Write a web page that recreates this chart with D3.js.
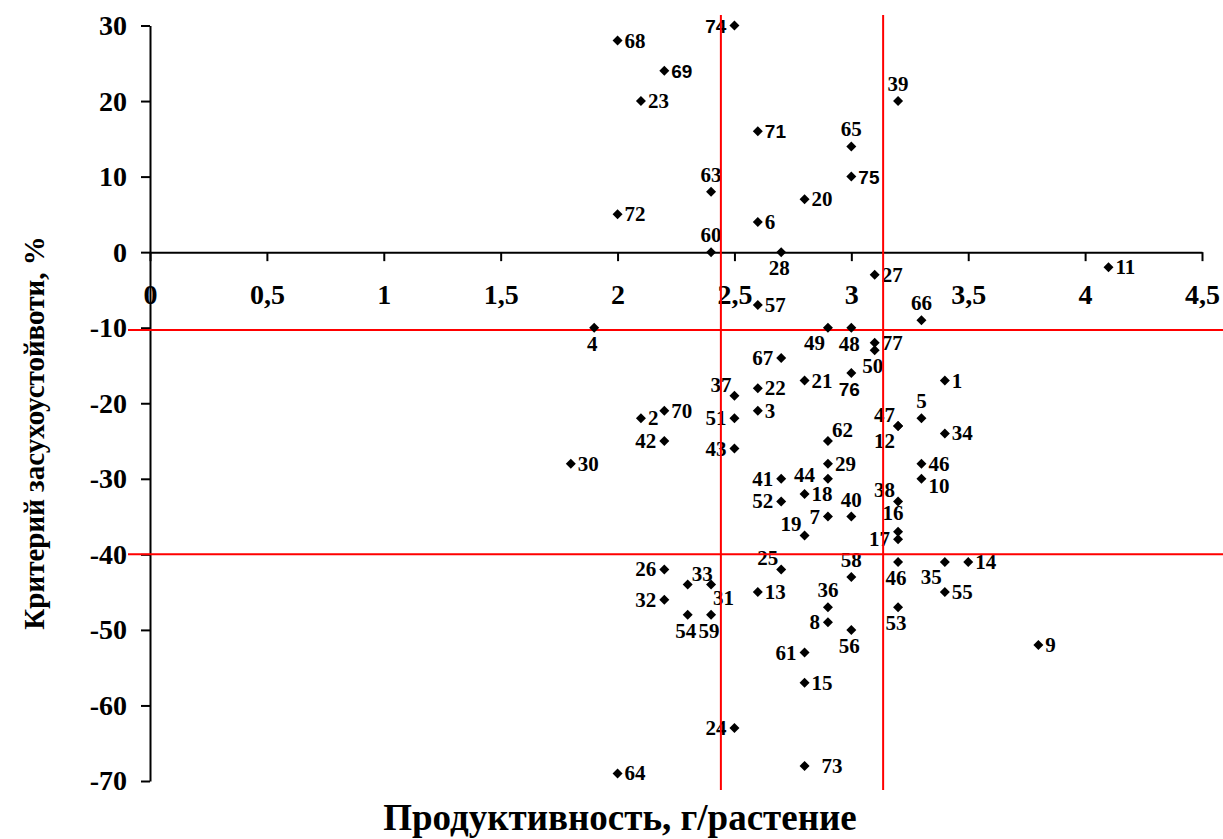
<!DOCTYPE html>
<html>
<head>
<meta charset="utf-8">
<script src="https://cdn.jsdelivr.net/npm/d3@7"></script>
<style>
  body { margin: 0; background: #fff; }
  svg { display: block; }
</style>
</head>
<body>
<div id="chart"></div>
<script>
// sample numbers, productivity (g/plant) and drought criterion (%)
var names = [1, 2, 3, 4, 5, 6, 7, 8, 9, 10,
  11, 12, 13, 14, 15, 16, 17, 18, 19, 20,
  21, 22, 23, 24, 25, 26, 27, 28, 29, 30,
  31, 32, 33, 34, 35, 36, 37, 38, 39, 40,
  41, 42, 43, 44, 46, 46, 47, 48, 49, 50,
  51, 52, 53, 54, 55, 56, 57, 58, 59, 60,
  61, 62, 63, 64, 65, 66, 67, 68, 69, 70,
  71, 72, 73, 74, 75, 76, 77];
var xVals = [3.4, 2.1, 2.6, 1.9, 3.3, 2.6, 2.9, 2.9, 3.8, 3.3,
  4.1, 3.2, 2.6, 3.5, 2.8, 3.2, 3.2, 2.8, 2.8, 2.8,
  2.8, 2.6, 2.1, 2.5, 2.7, 2.2, 3.1, 2.7, 2.9, 1.8,
  2.4, 2.2, 2.3, 3.4, 3.4, 2.9, 2.5, 3.2, 3.2, 3.0,
  2.7, 2.2, 2.5, 2.9, 3.3, 3.2, 3.2, 3.0, 2.9, 3.1,
  2.5, 2.7, 3.2, 2.3, 3.4, 3.0, 2.6, 3.0, 2.4, 2.4,
  2.8, 2.9, 2.4, 2.0, 3.0, 3.3, 2.7, 2.0, 2.2, 2.2,
  2.6, 2.0, 2.8, 2.5, 3.0, 3.0, 3.1];
var yVals = [-17, -22, -21, -10, -22, 4, -35, -49, -52, -30,
  -2, -23, -45, -41, -57, -37, -38, -32, -37.5, 7,
  -17, -18, 20, -63, -42, -42, -3, 0, -28, -28,
  -44, -46, -44, -24, -41, -47, -19, -33, 20, -35,
  -30, -25, -26, -30, -28, -41, -23, -10, -10, -13,
  -22, -33, -47, -48, -45, -50, -7, -43, -48, 0,
  -53, -25, 8, -69, 14, -9, -14, 28, 24, -21,
  16, 5, -68, 30, 10, -16, -12];

// threshold lines
var xLimits = [2.442, 3.136];
var yLimits = [-10.3, -40];

var xTicks = [0, 0.5, 1, 1.5, 2, 2.5, 3, 3.5, 4, 4.5];
var yTicks = [30, 20, 10, 0, -10, -20, -30, -40, -50, -60, -70];

var xTitle = "Продуктивность, г/растение";
var yTitle = "Критерий засухоустойвоти, %";

// label placement around each marker (same order as names)
var labelSide = ["r", "r", "r", "b", "t", "r", "l", "l", "r", "rb",
  "r", "bl", "r", "r", "r", "t16", "l", "r", "tl", "r",
  "r", "r", "r", "l", "tl", "l", "r", "b", "r", "r",
  "br", "l", "tr", "r", "bl", "t", "tl", "tl", "t", "t",
  "l", "l", "l", "lt", "r", "b", "tl", "b", "bl", "b",
  "l", "l", "b", "b", "r", "b", "r", "t", "b", "t",
  "l", "tr", "t", "r", "t", "t", "l", "r", "r", "r",
  "r", "r", "r2", "l", "r", "b", "r"];
var sansLabels = [69, 71, 74, 75, 76];

var serifFont = "'Liberation Serif', 'Times New Roman', Times, 'DejaVu Serif', serif";
var sansFont = "'Liberation Sans', Arial, Helvetica, sans-serif";

var width = 1223, height = 839;

var svg = d3.select("#chart").append("svg")
  .attr("width", width)
  .attr("height", height);

var x = d3.scaleLinear().domain([0, 4.5]).range([150, 1202]);
var y = d3.scaleLinear().domain([-70, 30]).range([781, 25.5]);

var fmt = function (d) { return String(d).replace(".", ","); };

//x axis sits on the zero line
svg.append("g")
  .attr("transform", "translate(0," + y(0) + ")")
  .call(d3.axisBottom(x).tickValues(xTicks).tickFormat(fmt)
    .tickSize(9).tickSizeOuter(0).tickPadding(23));

svg.append("g")
  .attr("transform", "translate(" + x(0) + ",0)")
  .call(d3.axisLeft(y).tickValues(yTicks).tickFormat(fmt)
    .tickSize(9).tickSizeOuter(0).tickPadding(14));

svg.selectAll(".domain, .tick line")
  .attr("stroke", "#000")
  .attr("stroke-width", 2);
svg.selectAll(".tick text")
  .attr("fill", "#000")
  .style("font-family", serifFont)
  .style("font-weight", "bold")
  .style("font-size", "28px");

//titles
svg.append("text")
  .attr("x", 620)
  .attr("y", 830)
  .attr("text-anchor", "middle")
  .style("font-family", serifFont)
  .style("font-weight", "bold")
  .style("font-size", "37px")
  .text(xTitle);

svg.append("text")
  .attr("transform", "translate(44,433) rotate(-90)")
  .attr("text-anchor", "middle")
  .style("font-family", serifFont)
  .style("font-weight", "bold")
  .style("font-size", "29px")
  .text(yTitle);

var points = names.map(function (n, i) {
  return { name: n, x: xVals[i], y: yVals[i], side: labelSide[i] };
});

//offsets for each label side: dx, baseline dy, anchor
var sides = {
  r: [7, 7, "start"], r2: [17, 7, "start"], rb: [7, 14, "start"],
  l: [-8, 7, "end"], lt: [-13, 3, "end"], t: [0, -10, "middle"], b: [-2, 23, "middle"],
  tl: [-3, -4, "end"], tr: [4, -4, "start"], t16: [-5, -12, "middle"],
  bl: [-3, 22, "end"], br: [2, 20, "start"]
};

var isSans = function (d) { return sansLabels.indexOf(d.name) >= 0; };

svg.append("g").selectAll("text")
  .data(points).enter()
  .append("text")
  .attr("x", function (d) { return x(d.x) + sides[d.side][0]; })
  .attr("y", function (d) { return y(d.y) + sides[d.side][1]; })
  .attr("text-anchor", function (d) { return sides[d.side][2]; })
  .style("font-family", function (d) { return isSans(d) ? sansFont : serifFont; })
  .style("font-weight", "bold")
  .style("font-size", function (d) { return isSans(d) ? "19px" : "21px"; })
  .text(function (d) { return d.name; });

//red threshold lines
svg.append("g").selectAll("line")
  .data(xLimits).enter()
  .append("line")
  .attr("x1", function (d) { return x(d); })
  .attr("x2", function (d) { return x(d); })
  .attr("y1", 15)
  .attr("y2", 790)
  .attr("stroke", "#ff0000")
  .attr("stroke-width", 2);

svg.append("g").selectAll("line")
  .data(yLimits).enter()
  .append("line")
  .attr("x1", 128)
  .attr("x2", width)
  .attr("y1", function (d) { return y(d); })
  .attr("y2", function (d) { return y(d); })
  .attr("stroke", "#ff0000")
  .attr("stroke-width", 2);

//diamond markers
var diamond = d3.symbol().type(d3.symbolSquare).size(50);
svg.append("g").selectAll("path")
  .data(points).enter()
  .append("path")
  .attr("d", diamond)
  .attr("transform", function (d) { return "translate(" + x(d.x) + "," + y(d.y) + ") rotate(45)"; })
  .attr("fill", "#000");
</script>
</body>
</html>
